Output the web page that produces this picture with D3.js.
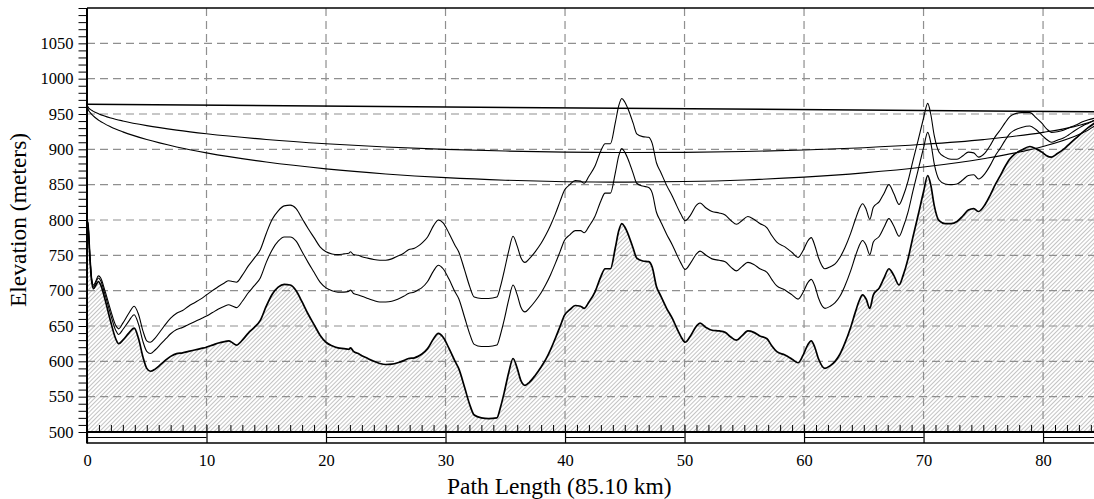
<!DOCTYPE html>
<html><head><meta charset="utf-8">
<script src="https://cdn.jsdelivr.net/npm/d3@7"></script>
<style>html,body{margin:0;padding:0;background:#fff;overflow:hidden}text{font-family:"Liberation Serif","Times New Roman",serif;fill:#000}</style>
</head><body><svg id="c" width="1094" height="499"></svg>
<script>
// ---- data ----
const distKm = [
0,0.1,0.25,0.4,0.55,0.75,0.95,1.15,1.5,2.0,
2.4,2.65,3.0,3.5,3.95,4.3,4.7,5.0,5.3,5.7,
6.2,6.6,7.0,7.5,8.0,8.5,9.0,9.5,10.0,10.5,
11.0,11.5,11.85,12.2,12.5,13.0,13.5,14.0,14.5,15.0,
15.5,16.0,16.5,17.0,17.5,18.0,18.5,19.0,19.5,20.0,
20.5,21.0,21.5,21.9,22.05,22.3,22.7,23.0,23.5,24.0,
24.5,25.0,25.5,26.0,26.5,26.9,27.4,27.7,28.0,28.5,
29.0,29.4,29.8,30.3,30.8,31.1,31.6,32.0,32.4,33.0,
33.6,34.3,34.6,34.9,35.3,35.65,36.0,36.3,36.65,37.0,
37.5,38.0,38.4,38.8,39.2,39.6,39.95,40.4,40.85,41.3,
41.6,42.0,42.5,43.0,43.35,43.8,44.2,44.5,44.75,45.0,
45.3,45.7,46.0,46.5,47.0,47.3,47.65,48.0,48.5,49.0,
49.35,49.7,50.05,50.5,51.0,51.3,51.8,52.3,52.9,53.4,
53.9,54.35,54.8,55.3,55.8,56.3,56.9,57.3,57.7,58.4,
59.0,59.5,59.9,60.3,60.6,60.9,61.2,61.75,62.2,62.6,
63.0,63.4,63.9,64.3,64.6,64.9,65.2,65.5,65.8,66.3,
66.7,67.1,67.5,67.95,68.3,68.7,69.1,69.55,70.0,70.35,
70.6,70.9,71.3,71.8,72.3,72.8,73.3,73.75,74.2,74.6,
75.15,75.6,76.0,76.4,76.8,77.2,77.6,78.2,78.9,79.4,
79.9,80.3,80.7,81.2,81.7,82.1,82.7,83.3,83.8,84.3,
85.1];
const terrain = [
800,790,745,712,703,708,713,708,688,655,
632,625,630,640,647,633,605,590,586,589,
596,602,607,611,612,614,616,618,620,623,
626,628,629,626,623,630,640,648,658,678,
695,705,709,708,700,684,667,652,637,627,
622,619,618,617,619,614,611,608,604,600,
597,595.5,596,598,601,604,605,607,610,618,
632,639.5,634,618,600,590,563,540,524,520,
519,520,535,555,585,604,590,573,566,570,
580,592,603,617,633,650,665,673,679,678,
675,684,698,720,731,731,760,785,795,790,
779,760,746,742,741,733,706,693,675,660,
647,635,627,636,650,654,648,644,643,641,
634,630,636,643,641,636,632,622,614,609,
603,598,608,623,629,620,604,590,594,600,
610,625,648,670,685,694,688,675,694,704,
718,731,722,708,722,745,775,807,840,863,
850,820,799,795,795,798,806,814,816,812,
822,836,850,862,875,886,893,899,904,901,
896,891,889,894,900,906,915,924,931,937,
946];
// profile drawn for k = 4/3
const profileK133 = [
800,791,746,714,706,712,718,714,695,665,
644,638,645,657,666,653,627,614,611,616,
625,632,639,645,648,652,656,660,664,669,
674,678,680,678,676,685,697,707,718,740,
758,770,776,776,770,755,740,726,712,704,
700,698,698,699,701,696,694,692,689,686,
684,684,685,688,692,696,698,701,704,713,
728,736,731,716,698,689,662,640,624,621,
621,623,638,658,688,708,694,677,670,675,
685,697,709,723,739,756,771,779,785,785,
782,791,805,827,838,838,866,891,901,896,
885,866,852,848,846,838,811,798,780,764,
751,739,730,739,752,756,750,745,743,741,
733,728,734,740,737,731,726,716,707,701,
694,688,697,711,716,707,690,675,678,683,
692,706,728,749,763,771,764,751,769,777,
790,802,792,777,790,811,840,871,902,924,
910,879,857,851,850,851,857,863,864,858,
866,878,891,901,912,922,927,931,933,928,
920,914,910,913,916,920,927,933,937,941,
946];
// profile drawn for k = 0.8
const profileK080 = [
800,791,747,715,708,714,721,718,700,671,
651,646,654,668,678,667,642,629,627,633,
644,653,661,668,672,678,683,688,694,700,
706,711,714,713,712,722,735,746,758,781,
801,813,820,821,816,802,788,775,762,755,
752,751,752,753,755,751,750,748,746,744,
743,743,745,749,753,758,760,763,767,776,
792,800,796,781,764,755,729,707,691,689,
689,691,706,727,757,777,763,747,740,745,
755,767,779,793,809,827,842,850,856,855,
852,862,876,898,908,908,937,962,972,967,
956,937,922,918,917,908,881,868,849,833,
820,808,799,807,821,824,817,812,810,807,
799,794,799,805,801,795,789,778,769,762,
754,747,756,770,775,764,747,731,734,738,
747,760,781,801,815,823,815,801,818,826,
838,850,838,822,834,855,883,913,944,965,
950,919,896,889,886,886,891,896,895,889,
895,906,918,927,937,946,950,952,952,945,
937,929,924,925,927,930,934,939,942,944,
946];
// line of sight and clearance arcs
const losKm = [0, 85.1];
const losElev = [963.7, 953.1];
const arcKm = [0,0.1,0.25,0.5,1,2,3,5,7.5,10,15,20,25,30,35,40,42.55,45,50,55,60,65,70,75,80,82.5,84,84.6,85,85.1];
const arcUpper = [963.7,959.4,956.9,954.1,950.1,944.4,940.2,933.6,927.2,922.0,914.0,908.0,903.4,900.0,897.6,896.1,895.7,895.5,895.7,896.9,899.0,902.3,907.1,913.8,924.0,931.8,939.1,943.6,948.8,953.1];
const arcLower = [963.7,956.5,952.3,947.6,941.0,931.7,924.7,913.8,903.4,895.0,882.0,872.4,865.2,859.9,856.3,854.2,853.7,853.6,854.4,856.7,860.7,866.7,875.0,886.7,904.0,917.4,929.6,937.2,945.9,953.1];
const xTicks = [0,10,20,30,40,50,60,70,80];
const yTicks = [500,550,600,650,700,750,800,850,900,950,1000,1050];
const xTitle = "Path Length (85.10 km)";
const yTitle = "Elevation (meters)";

// ---- drawing ----
const L = 87, T = 8, B = 432, R = 1094;
const svg = d3.select('#c');
const x = d3.scaleLinear().domain([0, 85.1]).range([L, 1104]);
const y = d3.scaleLinear().domain([500, 1100]).range([B, T]);

const defs = svg.append('defs');
defs.append('clipPath').attr('id', 'clip').append('rect')
  .attr('x', L).attr('y', T).attr('width', R - L).attr('height', B - T);
const pat = defs.append('pattern').attr('id', 'hatch').attr('patternUnits', 'userSpaceOnUse')
  .attr('width', 3).attr('height', 3).attr('patternTransform', 'rotate(45)');
pat.append('line').attr('x1', 0).attr('y1', 0).attr('x2', 0).attr('y2', 3)
  .attr('stroke', '#7a7a7a').attr('stroke-width', 0.9);

const terr = distKm.map((d, i) => ({k: d, t: terrain[i], a: profileK133[i], b: profileK080[i]}));
const plot = svg.append('g').attr('clip-path', 'url(#clip)');

plot.append('path').datum(terr)
  .attr('d', d3.area().x(d => x(d.k)).y0(y(500)).y1(d => y(d.t)).curve(d3.curveMonotoneX))
  .attr('fill', 'url(#hatch)');

// grid
const grid = plot.append('g').attr('stroke', '#8f8f8f').attr('stroke-width', 1.2).attr('stroke-dasharray', '8,5');
grid.selectAll('line.h').data(yTicks.filter(v => v > 500)).join('line')
  .attr('x1', L).attr('x2', R).attr('y1', d => y(d)).attr('y2', d => y(d));
grid.selectAll('line.v').data(xTicks.filter(v => v > 0)).join('line')
  .attr('y1', T).attr('y2', B).attr('x1', d => x(d)).attr('x2', d => x(d));

const lineOf = key => d3.line().x(d => x(d.k)).y(d => y(d[key])).curve(d3.curveMonotoneX);
plot.append('path').datum(terr).attr('d', lineOf('b')).attr('fill', 'none').attr('stroke', '#000').attr('stroke-width', 1.1);
plot.append('path').datum(terr).attr('d', lineOf('a')).attr('fill', 'none').attr('stroke', '#000').attr('stroke-width', 1.1);
plot.append('path').datum(terr).attr('d', lineOf('t')).attr('fill', 'none').attr('stroke', '#000').attr('stroke-width', 1.7);

const arcs = arcKm.map((d, i) => ({k: d, u: arcUpper[i], l: arcLower[i]}));
plot.append('path').datum(arcs).attr('d', lineOf('u')).attr('fill', 'none').attr('stroke', '#000').attr('stroke-width', 1.1);
plot.append('path').datum(arcs).attr('d', lineOf('l')).attr('fill', 'none').attr('stroke', '#000').attr('stroke-width', 1.1);
const los = losKm.map((d, i) => ({k: d, v: losElev[i]}));
plot.append('path').datum(los).attr('d', lineOf('v')).attr('fill', 'none').attr('stroke', '#000').attr('stroke-width', 1.5);

// y axis
const fs = '16.5px';
const yAxis = d3.axisLeft(y).tickValues(d3.range(500, 1101, 10)).tickSize(8.5).tickPadding(5)
  .tickFormat(v => yTicks.includes(v) ? String(v) : '');
svg.append('g').attr('transform', `translate(${L},0)`).call(yAxis)
  .call(g => g.select('.domain').remove())
  .call(g => g.selectAll('line').attr('stroke', '#000').attr('stroke-width', 1))
  .call(g => g.selectAll('text').attr('font-size', fs).attr('font-family', 'Liberation Serif').attr('fill', '#000'));

// x minor ticks (pointing up)
const xMinor = d3.axisTop(x).tickValues(d3.range(0, 86, 1)).tickSize(7).tickFormat('');
svg.append('g').attr('transform', `translate(0,${B})`).call(xMinor)
  .call(g => g.select('.domain').remove())
  .call(g => g.selectAll('line').attr('stroke', '#000').attr('stroke-width', 1));

// x labels + band separators
const xAxis = d3.axisBottom(x).tickValues(xTicks).tickSize(11).tickPadding(11).tickFormat(d3.format('d'));
svg.append('g').attr('transform', `translate(0,${B})`).call(xAxis)
  .call(g => g.select('.domain').remove())
  .call(g => g.selectAll('line').attr('stroke', '#000').attr('stroke-width', 1.2))
  .call(g => g.selectAll('text').attr('font-size', fs).attr('font-family', 'Liberation Serif').attr('fill', '#000'));

// scale band
const bandSegs = xTicks.filter((d, i) => i % 2 === 0).map(d => [d, Math.min(d + 10, 85.1)]);
svg.append('g').selectAll('line').data(bandSegs).join('line')
  .attr('x1', d => x(d[0])).attr('x2', d => Math.min(x(d[1]), R)).attr('y1', 437.5).attr('y2', 437.5)
  .attr('stroke', '#000').attr('stroke-width', 1.2);
svg.append('line').attr('x1', L).attr('x2', R).attr('y1', 443).attr('y2', 443).attr('stroke', '#000').attr('stroke-width', 1.5);
svg.append('line').attr('x1', L).attr('x2', R).attr('y1', B).attr('y2', B).attr('stroke', '#000').attr('stroke-width', 2.2);
svg.append('line').attr('x1', L).attr('x2', L).attr('y1', T).attr('y2', 443.5).attr('stroke', '#000').attr('stroke-width', 2);
svg.append('line').attr('x1', L).attr('x2', R).attr('y1', T).attr('y2', T).attr('stroke', '#000').attr('stroke-width', 1.5);

// titles
svg.append('text').attr('transform', `translate(26,${(T + B) / 2}) rotate(-90)`)
  .attr('text-anchor', 'middle').attr('font-size', '23.5px').text(yTitle);
svg.append('text').attr('x', 447).attr('y', 494).attr('text-anchor', 'start')
  .attr('font-size', '23.5px').text(xTitle);
</script></body></html>
